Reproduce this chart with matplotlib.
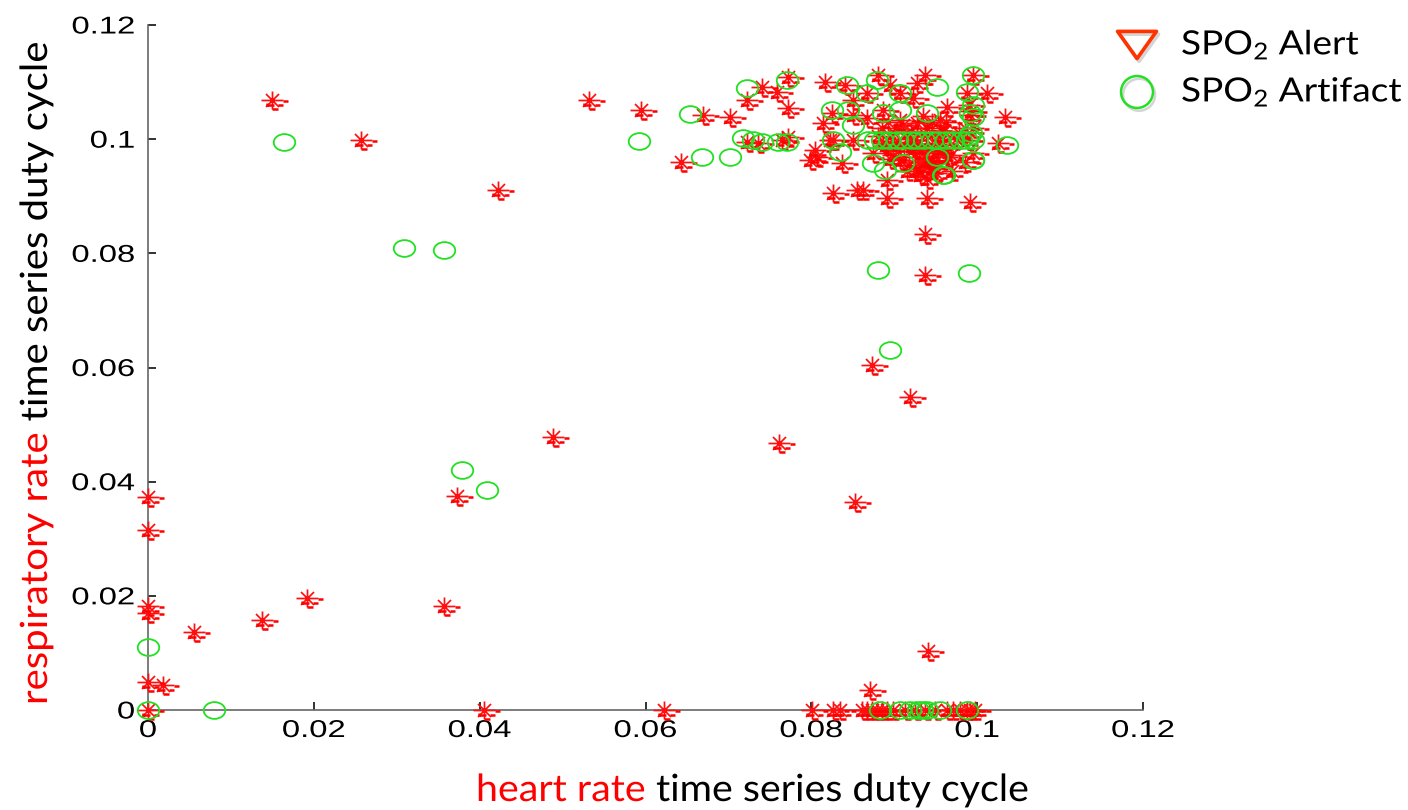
import numpy as np
import matplotlib
matplotlib.use("Agg")
import matplotlib.pyplot as plt
from matplotlib.path import Path
from matplotlib.transforms import Affine2D
from matplotlib.lines import Line2D
from matplotlib.patheffects import AbstractPathEffect
import matplotlib.patheffects as pe

plt.rcParams['mathtext.fontset'] = 'custom'
plt.rcParams['mathtext.rm'] = 'Lato'
plt.rcParams['mathtext.it'] = 'Lato'

# ---------------- data ----------------
alert_x = [0.0150, 0.0257, 0.0422, 0.0532, 0.0595, 0.0643, 0.0669, 0.0722, 0.0741, 0.0772,
           0.0759, 0.0772, 0.0702, 0.0722, 0.0736, 0.0765, 0.0772,
           0.0816, 0.0841, 0.0825, 0.0850, 0.0814, 0.0804, 0.0798, 0.0807, 0.0826, 0.0837, 0.0826, 0.0855,
           0.0880, 0.0937, 0.0995, 0.0895, 0.0927, 0.0867, 0.0907, 0.0988, 0.1012, 0.0850, 0.0923, 0.0964,
           0.0886, 0.1034, 0.0867, 0.0907, 0.0955, 0.0991, 0.0822, 0.0850, 0.0886, 0.0919, 0.0955, 0.0988,
           0.0874, 0.0907, 0.0939, 0.0964, 0.0891, 0.0931, 0.0862, 0.0891, 0.0939, 0.0991,
           0.0885, 0.0900, 0.0915, 0.0925, 0.0935, 0.0945, 0.0955, 0.0920, 0.0940, 0.0905, 0.0930, 0.0945,
           0.0925, 0.0950, 0.0960, 0.0895, 0.0910, 0.0935, 0.0960, 0.0975, 0.0985, 0.0990, 0.0993, 0.0995,
           0.0995, 0.0985, 0.0970, 0.0915, 0.0940, 0.0950, 0.1025,
           0.0890, 0.0898, 0.0912, 0.0928, 0.0942, 0.0952, 0.0918, 0.0933, 0.0948, 0.0905, 0.0922, 0.0938,
           0.0957, 0.0968, 0.0880, 0.0893, 0.0927, 0.0945, 0.0962, 0.0978,
           0.0488, 0.0761, 0.0853, 0.0873, 0.0919, 0.0937, 0.0937, 0.0941, 0.0871, 0.0373, 0.0357, 0.0192,
           0.0137, 0.0055, 0.0018, 0.0, 0.0, 0.0, 0.0, 0.0, 0.0, 0.0405, 0.0622,
           0.0801, 0.0826, 0.0835, 0.0861, 0.0867, 0.0873, 0.0879, 0.0885, 0.0891, 0.0898, 0.0913, 0.0925,
           0.0937, 0.0949, 0.0964, 0.0971, 0.0979, 0.0988, 0.0991, 0.0997]
alert_y = [0.1069, 0.0999, 0.0911, 0.1069, 0.1051, 0.0960, 0.1042, 0.1069, 0.1091, 0.1109,
           0.1083, 0.1055, 0.1039, 0.0995, 0.0993, 0.0999, 0.1004,
           0.1100, 0.1095, 0.1046, 0.1042, 0.1028, 0.0981, 0.0964, 0.0969, 0.0999, 0.0958, 0.0906, 0.0911,
           0.1113, 0.1113, 0.1113, 0.1095, 0.1098, 0.1081, 0.1081, 0.1081, 0.1081, 0.1069, 0.1072, 0.1056,
           0.1051, 0.1039, 0.1037, 0.1034, 0.1034, 0.1042, 0.0999, 0.0999, 0.0993, 0.0993, 0.0990, 0.0999,
           0.0976, 0.0964, 0.0964, 0.0969, 0.0929, 0.0937, 0.0911, 0.0897, 0.0897, 0.0890,
           0.1020, 0.1010, 0.1000, 0.0985, 0.0975, 0.0990, 0.1005, 0.1015, 0.1020, 0.0980, 0.0960, 0.0950,
           0.0945, 0.0970, 0.0985, 0.0965, 0.1025, 0.1040, 0.1015, 0.1000, 0.1020, 0.1060, 0.1050, 0.1020,
           0.0975, 0.0960, 0.0945, 0.0945, 0.0930, 0.0940, 0.0993,
           0.0990, 0.0972, 0.0968, 0.0992, 0.0962, 0.0978, 0.0955, 0.0950, 0.0958, 0.0995, 0.0988, 0.1008,
           0.0992, 0.0972, 0.1005, 0.1030, 0.1028, 0.1030, 0.1030, 0.1010,
           0.0478, 0.0468, 0.0364, 0.0604, 0.0548, 0.0834, 0.0762, 0.0103, 0.0035, 0.0375, 0.0182, 0.0196,
           0.0158, 0.0137, 0.0044, 0.0373, 0.0315, 0.0182, 0.0170, 0.0049, 0.0, 0.0, 0.0,
           0.0, 0.0, 0.0, 0.0, 0.0, 0.0, 0.0, 0.0, 0.0, 0.0, 0.0, 0.0,
           0.0, 0.0, 0.0, 0.0, 0.0, 0.0, 0.0, 0.0]

artifact_x = [0.0164, 0.0309, 0.0357, 0.0592, 0.0654, 0.0668, 0.0379, 0.0409, 0.0, 0.0080, 0.0,
              0.0880, 0.0895, 0.0990, 0.1036, 0.0960, 0.0995,
              0.0722, 0.0771, 0.0718, 0.0730, 0.0741, 0.0760, 0.0771, 0.0702, 0.0825, 0.0843, 0.0844,
              0.0826, 0.0835, 0.0850,
              0.0879, 0.0867, 0.0907, 0.0952, 0.0995, 0.0988, 0.0886, 0.0907, 0.0939, 0.0991, 0.0995, 0.0995,
              0.0868, 0.0877, 0.0885, 0.0894, 0.0903, 0.0911, 0.0920, 0.0928, 0.0936, 0.0945, 0.0953, 0.0963,
              0.0971, 0.0980, 0.0988, 0.0995,
              0.0874, 0.0889, 0.0911, 0.0952, 0.0959, 0.0995, 0.0993, 0.0990,
              0.0883, 0.0907, 0.0919, 0.0929, 0.0933, 0.0939, 0.0955, 0.0988]
artifact_y = [0.0995, 0.0810, 0.0806, 0.0997, 0.1044, 0.0969, 0.0420, 0.0385, 0.0110, 0.0, 0.0,
              0.0771, 0.0631, 0.0766, 0.0990, 0.0937, 0.0964,
              0.1090, 0.1104, 0.1002, 0.0999, 0.0995, 0.0995, 0.0995, 0.0969, 0.1051, 0.1095, 0.1051,
              0.0999, 0.0978, 0.1025,
              0.1104, 0.1081, 0.1081, 0.1091, 0.1113, 0.1083, 0.1046, 0.1051, 0.1046, 0.1046, 0.1039, 0.1060,
              0.0999, 0.0999, 0.0999, 0.0999, 0.0999, 0.0999, 0.0999, 0.0999, 0.0999, 0.0999, 0.0999, 0.0999,
              0.0999, 0.0999, 0.0999, 0.0999,
              0.0958, 0.0946, 0.0958, 0.0969, 0.0937, 0.0964, 0.1010, 0.1005,
              0.0, 0.0, 0.0, 0.0, 0.0, 0.0, 0.0, 0.0]

ticks = [0, 0.02, 0.04, 0.06, 0.08, 0.1, 0.12]
tick_labels = ['0', '0.02', '0.04', '0.06', '0.08', '0.1', '0.12']
legend_labels = ['SPO$_2$ Alert', 'SPO$_2$ Artifact']


# ---------------- helpers ----------------
class Stretch(AbstractPathEffect):
    """Stretch glyphs along the text direction around an anchor of the text path."""
    def __init__(self, sx, anchor='center'):
        super().__init__()
        self.sx = sx
        self.anchor = anchor

    def draw_path(self, renderer, gc, tpath, affine, rgbFace=None):
        ext = tpath.get_extents()
        if self.anchor == 'center':
            cx = (ext.x0 + ext.x1) / 2
        elif self.anchor == 'right':
            cx = ext.x1
        else:
            cx = 0.0
        t = Affine2D().translate(-cx, 0).scale(self.sx, 1).translate(cx, 0)
        renderer.draw_path(gc, tpath, t + affine, rgbFace)


def seg_path(segs, extent=16):
    verts, codes = [], []
    for (a, b) in segs:
        verts += [a, b]
        codes += [Path.MOVETO, Path.LINETO]
    verts.append((extent, -extent))
    codes.append(Path.MOVETO)
    return Path(verts, codes)


star_path = seg_path([((0, -9), (0, 9)), ((-11, 0), (11, 0)),
                      ((-6.5, -6.5), (6.5, 6.5)), ((-6.5, 6.5), (6.5, -6.5))])
dash_path = seg_path([((11, -1), (16, -1)), ((-5, -5), (2, -5)), ((6, -5), (11, -5)),
                      ((0, -9), (6, -9)), ((-5, -3), (-5, -6))])
ell = Path.unit_circle()
ell_path = Path(Affine2D().scale(1, 0.78).transform(ell.vertices), ell.codes)

# ---------------- figure ----------------
W, H = 1408, 810
fig = plt.figure(figsize=(W / 100, H / 100), dpi=100)
ax = fig.add_axes([148 / W, 1 - 710 / H, (1143 - 148) / W, (710 - 25) / H])

ms_px = 32
ax.plot(alert_x, alert_y, linestyle='none', marker=star_path, ms=ms_px * 0.72,
        mec='#ff1010', mfc='none', mew=1.25, clip_on=False, zorder=3)
ax.plot(alert_x, alert_y, linestyle='none', marker=dash_path, ms=ms_px * 0.72,
        mec='#ff0000', mfc='none', mew=1.8, clip_on=False, zorder=3)
ax.plot(artifact_x, artifact_y, linestyle='none', marker=ell_path, ms=21.5 * 0.72,
        mec='#22e022', mfc='none', mew=1.3, clip_on=False, zorder=4)

ax.set_xlim(0, 0.12)
ax.set_ylim(0, 0.12)
for s in ['top', 'right']:
    ax.spines[s].set_visible(False)
for s in ['left', 'bottom']:
    ax.spines[s].set_color('#666666')
    ax.spines[s].set_linewidth(1.2)
ax.set_xticks(ticks)
ax.set_yticks(ticks)
ax.set_xticklabels(tick_labels)
ax.set_yticklabels(tick_labels)
ax.tick_params(direction='in', length=6, width=1.3, color='#222222', labelsize=17.5)
ax.tick_params(axis='x', pad=7.2)
ax.tick_params(axis='y', pad=9.4)
tick_font = 'Liberation Sans'
for lab in ax.get_xticklabels():
    lab.set_fontfamily(tick_font)
    lab.set_path_effects([Stretch(1.35, 'center')])
for lab in ax.get_yticklabels():
    lab.set_fontfamily(tick_font)
    lab.set_path_effects([Stretch(1.35, 'right')])

# ---------------- axis labels (two colours) ----------------
lab_font = 'Lato'
lab_size = 27
lab_st = 1.05
fig.canvas.draw()
renderer = fig.canvas.get_renderer()

t1 = fig.text(476 / W, 9 / H, 'heart rate', color='#ff0000', fontsize=lab_size,
              family=lab_font, ha='left', va='baseline', path_effects=[Stretch(lab_st, 'left')])
bb = t1.get_window_extent(renderer)
x2 = bb.x0 + (bb.x1 - bb.x0) * lab_st
fig.text(x2 / W, 9 / H, ' time series duty cycle', color='black', fontsize=lab_size,
         family=lab_font, ha='left', va='baseline', path_effects=[Stretch(lab_st, 'left')])

y0 = H - 705
t2 = fig.text(47 / W, y0 / H, 'respiratory rate', color='#ff0000', fontsize=lab_size,
              family=lab_font, ha='left', va='baseline', rotation=90, rotation_mode='anchor',
              path_effects=[Stretch(1.07, 'left')])
bb2 = t2.get_window_extent(renderer)
y2 = y0 + (bb2.y1 - y0) * 1.07
fig.text(47 / W, y2 / H, ' time series duty cycle', color='black', fontsize=lab_size,
         family=lab_font, ha='left', va='baseline', rotation=90, rotation_mode='anchor',
         path_effects=[Stretch(1.07, 'left')])

# ---------------- legend ----------------
tri_path = Path([(-1, 0.7), (1, 0.7), (0, -0.7), (-1, 0.7)],
                [Path.MOVETO, Path.LINETO, Path.LINETO, Path.CLOSEPOLY])
shadow = [pe.SimpleLineShadow(offset=(1.5, -2), shadow_color='#888888', alpha=0.35), pe.Normal()]
fig.add_artist(Line2D([1137 / W], [(H - 45) / H], transform=fig.transFigure, linestyle='none',
                      marker=tri_path, ms=28, mec='#ff3300', mfc='none', mew=2.6,
                      path_effects=shadow))
fig.add_artist(Line2D([1137 / W], [(H - 92) / H], transform=fig.transFigure, linestyle='none',
                      marker='o', ms=23, mec='#22e022', mfc='none', mew=1.8,
                      path_effects=shadow))
leg_size = 24
for i, lbl in enumerate(legend_labels):
    fig.text(1181 / W, (H - 45 - 47 * i) / H, lbl, fontsize=leg_size, family=lab_font,
             ha='left', va='center', path_effects=[Stretch(1.11, 'left')])

fig.savefig('out.png', dpi=100)
